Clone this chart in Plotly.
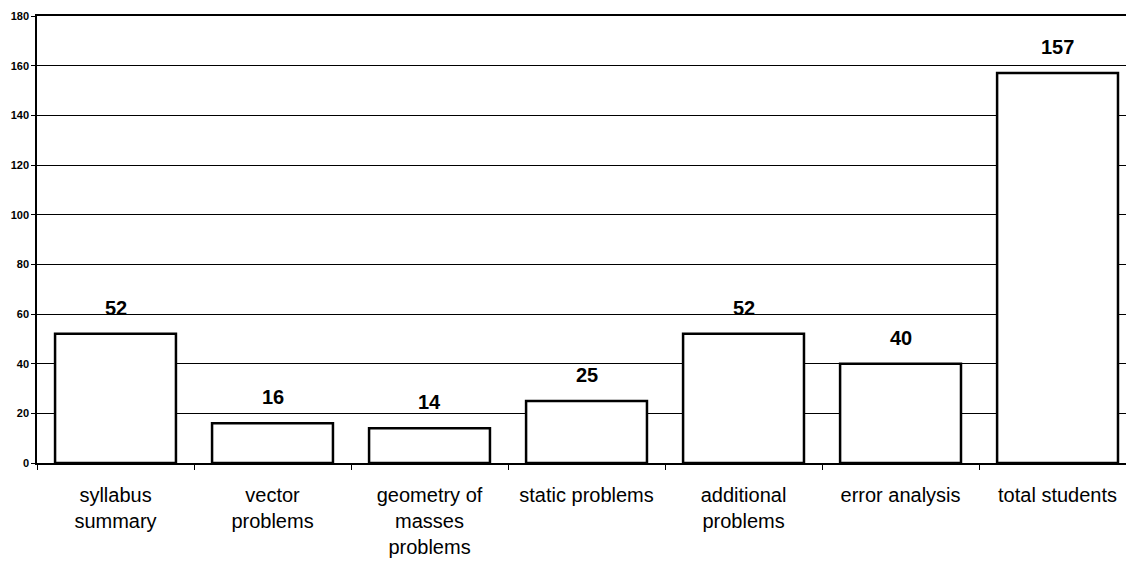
import plotly.graph_objects as go

categories = [
    "syllabus<br>summary",
    "vector<br>problems",
    "geometry of<br>masses<br>problems",
    "static problems",
    "additional<br>problems",
    "error analysis",
    "total students",
]
counts = [52, 16, 14, 25, 52, 40, 157]
y_ticks = [0, 20, 40, 60, 80, 100, 120, 140, 160, 180]

FONT = "Arial, 'Liberation Sans', sans-serif"

fig = go.Figure(
    go.Bar(
        x=categories,
        y=counts,
        width=0.77,
        marker=dict(color="white", line=dict(color="black", width=2.5)),
        hoverinfo="skip",
    )
)

# value labels above each bar
for cat, v in zip(categories, counts):
    fig.add_annotation(
        x=cat, y=v, text=str(v), showarrow=False,
        yanchor="bottom", yshift=13,
        font=dict(family=FONT, size=20, color="black", weight="bold"),
    )

fig.update_layout(
    width=1126, height=567,
    margin=dict(l=37, r=0, t=16, b=104),
    paper_bgcolor="white", plot_bgcolor="white",
    showlegend=False,
    font=dict(family=FONT, color="black"),
)

fig.update_xaxes(
    type="category",
    range=[-0.5, 6.436],
    tickson="boundaries", ticks="outside", ticklen=5, tickwidth=1.2, tickcolor="black",
    tickfont=dict(family=FONT, size=20, color="black"),
    ticklabelstandoff=13,
    showline=True, linecolor="black", linewidth=1.5, mirror=True,
    showgrid=False, zeroline=False, fixedrange=True,
)

fig.update_yaxes(
    range=[0, 180],
    tickmode="array", tickvals=y_ticks,
    ticks="outside", ticklen=4, tickwidth=1.2, tickcolor="black",
    tickfont=dict(family=FONT, size=11, color="black", weight="bold"),
    showline=True, linecolor="black", linewidth=1.5,
    showgrid=True, gridcolor="black", gridwidth=1.3,
    zeroline=False, fixedrange=True,
)

fig.write_html("out.html", config={"displayModeBar": False})
